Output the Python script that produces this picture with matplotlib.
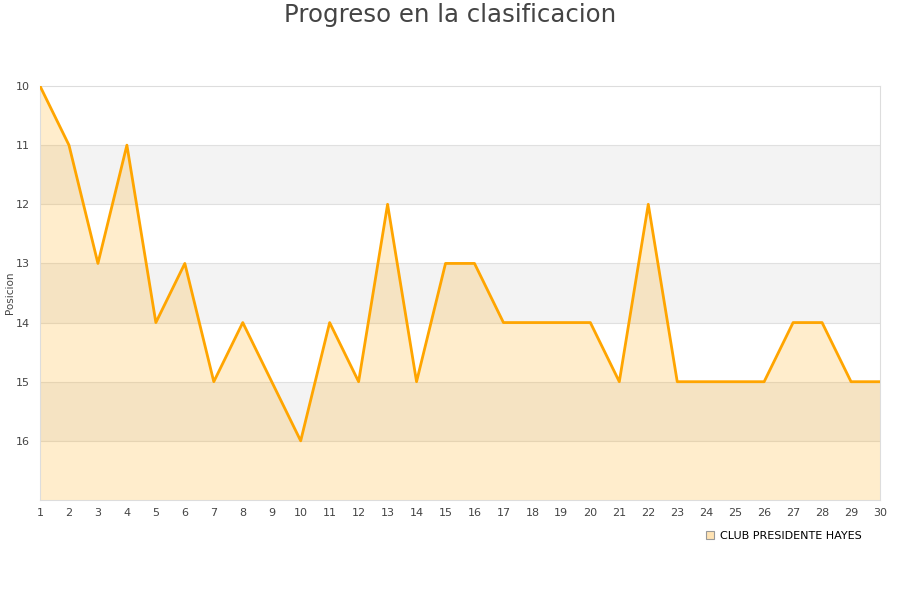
import matplotlib
matplotlib.use("Agg")
import matplotlib.pyplot as plt
from matplotlib.lines import Line2D

jornadas = list(range(1, 31))
posiciones = [10, 11, 13, 11, 14, 13, 15, 14, 15, 16, 14, 15, 12, 15, 13, 13, 14, 14, 14, 14,
              15, 12, 15, 15, 15, 15, 14, 14, 15, 15]
equipo = "CLUB PRESIDENTE HAYES"
titulo = "Progreso en la clasificacion"
ylabel = "Posicion"

fig = plt.figure(figsize=(9, 6), dpi=100)
ax = fig.add_axes([40/900, 1-500/600, 840/900, 414/600])

for k in (11, 13, 15):
    ax.axhspan(k, k+1, color="#f3f3f3", zorder=0, lw=0)
for k in range(11, 17):
    ax.axhline(k, color="#e0e0e0", lw=0.8, zorder=1)

ax.fill_between(jornadas, posiciones, 17, color="orange", alpha=0.2, lw=0, zorder=2)
ax.plot(jornadas, posiciones, color="#ffa500", lw=2.0, zorder=3)

ax.set_xlim(1, 30)
ax.set_ylim(17, 10)
ax.set_xticks(jornadas)
ax.set_yticks(range(10, 17))
ax.tick_params(length=0, labelsize=8, colors="#444444", pad=6)
ax.tick_params(axis="y", pad=7)
for s in ax.spines.values():
    s.set_color("#dddddd")
ax.set_ylabel(ylabel, fontsize=7.5, color="#444444")
ax.yaxis.set_label_coords(-25/840, 0.5)

fig.suptitle(titulo, fontsize=17.6, color="#444444", y=0.995)

handle = Line2D([], [], marker="s", linestyle="none", markersize=6,
                markerfacecolor="#ffe3b3", markeredgecolor="#999999", markeredgewidth=0.8)
fig.legend([handle], [equipo], loc="center left", bbox_to_anchor=(693/900, 1-536/600),
           frameon=False, fontsize=8, handletextpad=0.3, handlelength=1.2)

fig.savefig("out.png", dpi=100)
